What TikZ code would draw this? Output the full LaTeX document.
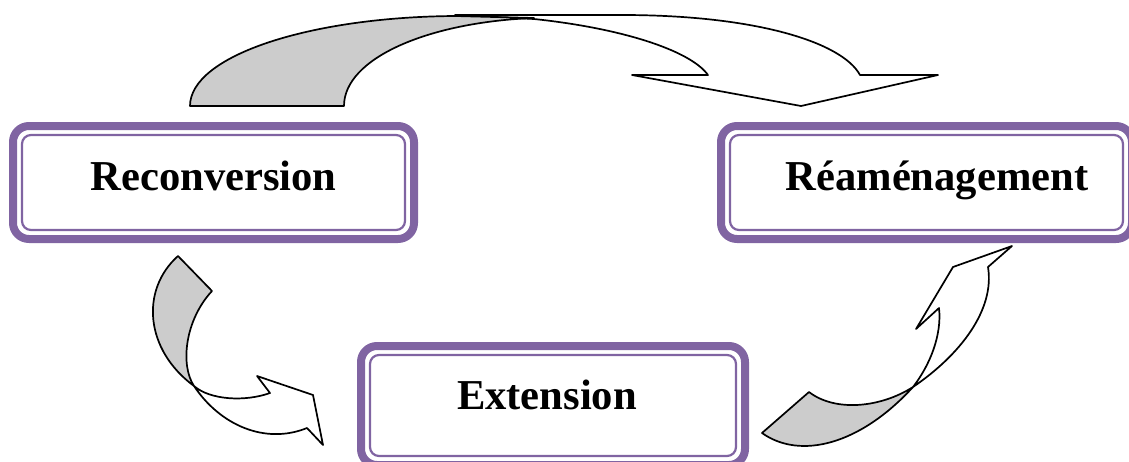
\documentclass[tikz,border=0pt]{standalone}
\usepackage{fontspec}
\setmainfont{Liberation Serif}
\definecolor{boxpurple}{RGB}{128,100,162}
\definecolor{backgray}{RGB}{204,204,204}
\begin{document}
\begin{tikzpicture}[x=0.5pt, y=-0.5pt, line join=round,
		stage/.style={draw=boxpurple, line width=4pt, rounded corners=8pt, outer sep=0pt,
			minimum height=56.5pt, text height=14pt, text depth=6.5pt,
			font=\fontsize{21.3}{25}\selectfont\bfseries},
		rim/.style={draw=boxpurple, line width=1.1pt, rounded corners=4.5pt},
		back/.style={fill=backgray, draw=black, line width=0.85pt},
		front/.style={fill=white, draw=black, line width=0.85pt}]
	\useasboundingbox (0,0) rectangle (1129,461);
	\clip (0,0) rectangle (1129,461);
	% the three stages
	\node[stage, minimum width=200.5pt] (recon) at (213.5,182.5) {Reconversion};
	\node[stage, minimum width=205.5pt] (reamen) at (926.5,182.5) {\hspace{10.5pt}Réaménagement};
	\node[stage, minimum width=192pt, minimum height=59.5pt, text depth=10.5pt] (ext) at (553,405.5) {\hspace{-6pt}Extension};
	\foreach \s in {recon, reamen, ext}
		\draw[rim] ([shift={(4.5pt,-4.5pt)}]\s.north west) rectangle ([shift={(-4.5pt,4.5pt)}]\s.south east);
	% top arrow, from Reconversion to Réaménagement
	\draw[front] (455,15) -- (622,15) .. controls (755,15) and (842,42) .. (860,75) -- (938,75) -- (801,106)
		-- (632,75) -- (708,75) .. controls (690,50) and (620,28) .. (534,19) -- cycle;
	\draw[back] (190,106) .. controls (190,56) and (309,17) .. (455,16) -- (534,18)
		.. controls (429,22) and (344,58) .. (344,106) -- cycle;
	% lower left arrow, towards Extension
	\draw[back] (178,256) .. controls (140,290) and (145,350) .. (194,386)
		.. controls (180,365) and (185,320) .. (212,291) -- cycle;
	\draw[front] (194,386) .. controls (210,400) and (245,402) .. (270,393) -- (257,376) -- (313,395)
		-- (323,445) -- (307,428) .. controls (265,445) and (220,425) .. cycle;
	% lower right arrow, up to Réaménagement
	\draw[back] (762,433) .. controls (800,460) and (860,445) .. (913,387)
		.. controls (880,408) and (835,412) .. (809,392) -- cycle;
	\draw[front] (913,387) .. controls (930,365) and (942,335) .. (939,308) -- (916,329) -- (953,267)
		-- (1012,246) -- (988,267) .. controls (995,310) and (960,355) .. cycle;
\end{tikzpicture}
\end{document}
